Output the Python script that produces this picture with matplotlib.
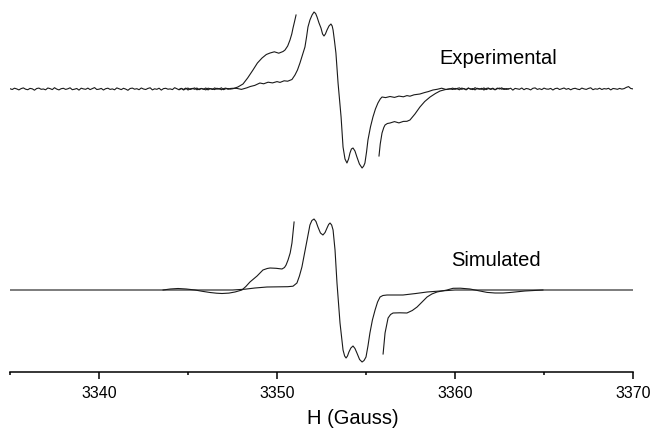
#!/usr/bin/env python3

import matplotlib
matplotlib.use("Agg")
import matplotlib.pyplot as plt
import numpy as np

plt.rcParams.update({
    "font.family": ["Liberation Sans", "DejaVu Sans"],
})

# --- Experimental spectrum (intensity in arbitrary units, baseline = 0) ---
# baseline noise, left side, 3335 .. 3347.5 G
exp_noise_left = [0.3, -0.5, 0.8, 0.1, -0.9, 0.4, 1.1, -0.2, -0.7, 0.6,
                  0.2, -1.2, 0.5, 0.9, -0.3, 0.0, -0.8, 1.0, 0.4, -0.6,
                  1.3, -0.1, -0.9, 0.3, 0.7, -0.4, 0.2, 1.2, -0.7, -0.2,
                  0.5, -1.1, 0.8, 0.1, -0.3, 0.9, -0.6, 0.4, 1.4, -0.5,
                  -0.2, 0.6, -1.0, 0.3, 0.8, -0.4, 0.1, -0.8, 1.1, 0.2,
                  -0.6, 0.7, -0.1, -1.3, 0.5, 0.9, -0.2, 0.3, -0.7, 1.0,
                  0.0, -0.5, 0.6, 1.2, -0.9, 0.2, -0.3, 0.8, -1.1, 0.4,
                  0.7, -0.2, 0.1, -0.6, 1.3, 0.3, -0.8, 0.5, -0.4, 0.9,
                  -1.0, 0.2, 0.6, -0.3, 1.0, -0.7, 0.4, 0.0, -0.9, 0.8,
                  0.3, -0.5, 1.1, -0.2, 0.6, -0.8, 0.4, 0.9, -0.3, 0.5,
                  0.7]
# central part of the spectrum
exp_center_field = [3347.75, 3348.0, 3348.31, 3348.5, 3348.75, 3349.04, 3349.25, 3349.5,
                    3349.75, 3350.0, 3350.17, 3350.4, 3350.6, 3350.84, 3351.01, 3351.15,
                    3351.29, 3351.43, 3351.57, 3351.66, 3351.74, 3351.85, 3351.97, 3352.08,
                    3352.17, 3352.25, 3352.36, 3352.47, 3352.56, 3352.64, 3352.72, 3352.81,
                    3352.92, 3353.03, 3353.10, 3353.15, 3353.23, 3353.31, 3353.43, 3353.60,
                    3353.71, 3353.82, 3353.93, 3354.02, 3354.10, 3354.18, 3354.27, 3354.38,
                    3354.49, 3354.63, 3354.78, 3354.87, 3354.94, 3355.03, 3355.11, 3355.25,
                    3355.39, 3355.53, 3355.67, 3355.80, 3355.90, 3356.1, 3356.35, 3356.6,
                    3356.85, 3357.1, 3357.3, 3357.47, 3357.7, 3358.03, 3358.3, 3358.5,
                    3358.76, 3359.0, 3359.25, 3359.5]
exp_center = [0.6, -0.4, 1.2, 2.5, 3.6, 6.0, 5.2, 6.8,
              6.1, 7.4, 6.6, 8.2, 7.8, 9.5, 14, 19,
              26, 34, 42, 52, 62, 69, 74, 77,
              75.5, 72, 66, 61, 55, 53, 55, 59,
              63, 65, 63, 59, 48, 36, 6, -28,
              -58, -70, -74, -70, -64, -60, -59, -62,
              -68, -75, -79, -77, -74, -63, -51, -38,
              -28, -20, -14, -10, -8, -8.6, -7.5, -8.4,
              -7.1, -7.8, -6.6, -7.2, -5.8, -5.0, -3.5, -2.6,
              -1.0, -0.3, 0.8, -0.5]
# baseline noise, right side, 3359.75 .. 3370 G
exp_noise_right = [0.2, 0.9, -0.4, 0.6, 1.1, -0.3, 0.4, -0.9, 0.8, 0.1,
                   -0.6, 1.3, 0.2, -0.2, 0.7, -1.0, 0.5, 1.0, -0.4, 0.3,
                   -0.8, 0.9, 0.0, 1.2, -0.5, 0.4, -0.1, 0.8, -1.1, 0.6,
                   0.2, -0.3, 1.0, -0.7, 0.5, 0.1, -0.9, 0.7, 1.1, -0.4,
                   0.3, -0.6, 0.9, 0.0, -0.2, 0.6, -1.0, 0.4, 0.8, -0.5,
                   0.2, 1.0, -0.3, 0.5, -0.8, 0.3, 0.7, -0.1, -0.6, 0.9,
                   0.1, -0.4, 0.6, 1.2, -0.7, 0.2, -0.2, 0.8, -0.5, 0.4,
                   0.0, 0.7, -0.9, 0.5, 0.2, -0.3, 0.6, -0.1, 0.4, 1.6,
                   2.4, 0.5, 0.1]

# amplified wings of the experimental spectrum
exp_wing_noise_left = [-0.4, 0.7, -1.0, 0.2, 0.9, -0.5, 0.3, 1.1, -0.8, 0.0, 0.6, -0.3,
                       1.0, -0.9, 0.4, 0.1, -0.6, 0.8, -0.2, 1.2, -0.7, 0.3, 0.5, -0.1]
exp_wing_left_field = [3347.53, 3347.8, 3348.09, 3348.35, 3348.65, 3348.9, 3349.16, 3349.4,
                       3349.61, 3349.85, 3350.1, 3350.34, 3350.45, 3350.6, 3350.73, 3350.83,
                       3350.90, 3350.98, 3351.07]
exp_wing_left = [0.3, 2.0, 5.0, 11, 19, 26, 31, 34.5,
                 36, 37.2, 35.8, 37.5, 39, 43, 49, 55,
                 61, 67, 74]
exp_wing_right_field = [3355.73, 3355.80, 3355.90, 3356.0, 3356.07, 3356.2, 3356.35, 3356.6,
                        3356.85, 3357.1, 3357.3, 3357.47, 3357.75, 3358.03, 3358.3, 3358.6,
                        3358.9, 3359.16, 3359.45, 3359.72]
exp_wing_right = [-67, -55, -44, -38.5, -36, -34.5, -34, -32.6,
                  -33.9, -32.4, -32.3, -31, -25, -18, -12.5, -8,
                  -4.5, -2, -0.6, 0.2]
exp_wing_noise_right = [-0.5, 0.6, 0.1, -0.8, 0.9, 0.3, -0.4, 1.0, -0.2, 0.5, -0.9, 0.7, 0.2,
                        -0.3, 1.1, -0.6, 0.4, 0.0, 0.8, -0.7, 0.3, 0.9, -0.2, 0.5, -0.4, 0.2]

# --- Simulated spectrum ---
sim_field = [3335.0, 3347.5, 3348.2, 3348.76, 3349.44, 3350.2, 3350.6, 3350.9, 3351.12,
             3351.26, 3351.40, 3351.55, 3351.69, 3351.85, 3351.96, 3352.08, 3352.19,
             3352.30, 3352.44, 3352.58, 3352.70, 3352.81, 3352.90, 3352.98, 3353.07,
             3353.15, 3353.26, 3353.37, 3353.54, 3353.71, 3353.80, 3353.88, 3353.96,
             3354.04, 3354.15, 3354.27, 3354.38, 3354.49, 3354.64, 3354.78, 3354.89,
             3355.00, 3355.11, 3355.22, 3355.36, 3355.51, 3355.65, 3355.79, 3355.95,
             3356.18, 3357.08, 3357.8, 3358.43, 3359.16, 3360.0, 3370.0]
sim_main = [0, 0, 0.8, 2, 3, 3.2, 3.3, 3.8, 7,
            14, 23, 37, 50, 65, 69.5, 71, 68.5,
            63, 57, 55, 57.5, 62, 65.5, 67, 65,
            60, 40, 7, -33, -60, -66, -68, -66,
            -62, -58, -56, -58.5, -63, -69.5, -72, -70.5,
            -67, -56, -43, -30, -20, -12, -7, -5.5,
            -5, -5, -3.5, -2, -1, 0, 0]
sim_wing_left_field = [3343.60, 3344.0, 3344.44, 3344.9, 3345.39, 3345.8, 3346.24, 3346.6,
                       3346.91, 3347.3, 3347.64, 3348.03, 3348.25, 3348.48, 3348.88, 3349.21,
                       3349.45, 3349.61, 3349.95, 3350.28, 3350.42, 3350.51, 3350.62, 3350.74,
                       3350.84, 3350.96]
sim_wing_left = [0, 1.0, 1.5, 1.0, 0, -1.3, -2.5, -3.2,
                 -3.5, -3.1, -2.0, 0, 3.5, 8, 14, 20,
                 21.5, 22, 21.7, 21, 22.5, 25, 30, 37,
                 47, 68]
sim_wing_right_field = [3355.96, 3356.07, 3356.24, 3356.38, 3356.52, 3356.9, 3357.30, 3357.6,
                        3357.87, 3358.15, 3358.43, 3358.7, 3358.99, 3359.55, 3359.89, 3360.3,
                        3360.84, 3361.4, 3361.8, 3362.25, 3362.7, 3363.09, 3363.93, 3364.94]
sim_wing_right = [-64, -43, -28, -24.5, -23, -22.8, -23, -20.5,
                  -17, -12, -7, -4, -2, 0, 1.7, 1.8,
                  1.0, -1.0, -2.4, -3.0, -3.0, -2.5, -1.0, 0]

EXP_OFFSET = -89
SIM_OFFSET = -290
LINE = dict(color="#1a1a1a", lw=0.8)


def plot_spectra():
    fig = plt.figure(figsize=(6.51, 4.28), dpi=100)
    ax = fig.add_axes([10 / 651, 1 - 372 / 428, 623 / 651, 372 / 428])

    # experimental: full spectrum
    field_left = np.linspace(3335, 3347.5, len(exp_noise_left))
    field_right = np.linspace(3359.75, 3370, len(exp_noise_right))
    exp_field = np.concatenate([field_left, exp_center_field, field_right])
    exp_main = np.concatenate([exp_noise_left, exp_center, exp_noise_right])
    ax.plot(exp_field, exp_main + EXP_OFFSET, **LINE)

    # experimental: amplified wings
    wl_field = np.concatenate([np.linspace(3344.5, 3347.375, len(exp_wing_noise_left)),
                               exp_wing_left_field])
    wl = np.concatenate([exp_wing_noise_left, exp_wing_left])
    ax.plot(wl_field, wl + EXP_OFFSET, **LINE)
    wr_field = np.concatenate([exp_wing_right_field,
                               np.linspace(3359.875, 3363, len(exp_wing_noise_right))])
    wr = np.concatenate([exp_wing_right, exp_wing_noise_right])
    ax.plot(wr_field, wr + EXP_OFFSET, **LINE)

    # simulated
    ax.plot(sim_field, np.array(sim_main) + SIM_OFFSET, **LINE)
    ax.plot(sim_wing_left_field, np.array(sim_wing_left) + SIM_OFFSET, **LINE)
    ax.plot(sim_wing_right_field, np.array(sim_wing_right) + SIM_OFFSET, **LINE)

    ax.text(3362.45, -58, "Experimental", fontsize=14.5, ha="center", va="center")
    ax.text(3362.3, -260, "Simulated", fontsize=14.5, ha="center", va="center")

    # Styling
    ax.set_xlim(3335, 3370)
    ax.set_ylim(-372, 0)
    ax.set_xticks([3340, 3350, 3360, 3370])
    ax.set_xticks([3335, 3345, 3355, 3365], minor=True)
    ax.tick_params(axis="x", which="major", direction="out", length=5, width=1.1,
                   pad=5, labelsize=11.5)
    ax.tick_params(axis="x", which="minor", direction="out", length=2.5, width=1.1)
    ax.set_yticks([])
    for side in ("top", "right", "left"):
        ax.spines[side].set_visible(False)
    ax.spines["bottom"].set_linewidth(1.1)
    ax.set_xlabel("H (Gauss)", fontsize=14.5)
    ax.xaxis.set_label_coords(0.55, -0.124)
    ax.xaxis.label.set_va("center")

    fig.savefig("out.png", dpi=100)


if __name__ == "__main__":
    plot_spectra()
